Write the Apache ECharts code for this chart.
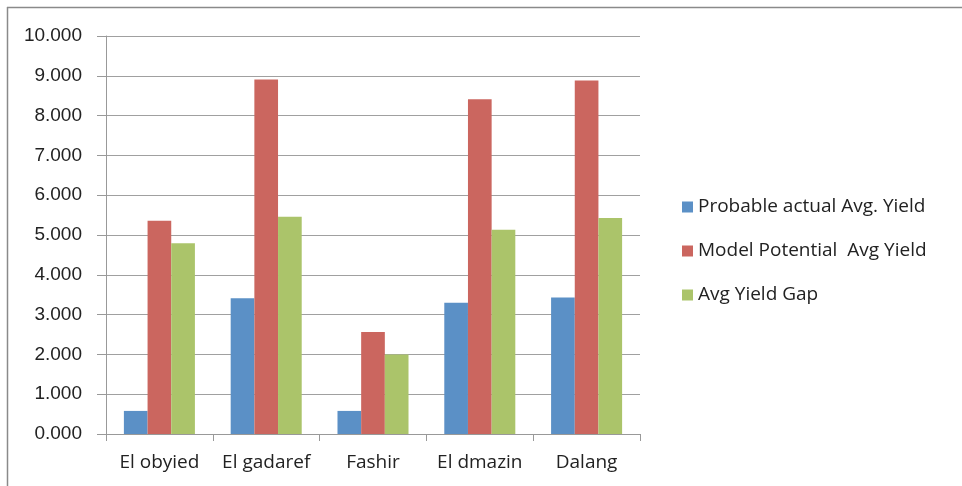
<!DOCTYPE html>
<html>
<head>
<meta charset="utf-8">
<script src="https://cdn.jsdelivr.net/npm/echarts@6/dist/echarts.min.js"></script>
<style>html,body{margin:0;padding:0;background:#fff;}#c{width:962px;height:486px;}</style>
</head>
<body>
<div id="c"></div>
<script>
const categories = ['El obyied', 'El gadaref', 'Fashir', 'El dmazin', 'Dalang'];
const seriesNames = ['Probable actual Avg. Yield', 'Model Potential  Avg Yield', 'Avg Yield Gap'];
const actualYield = [0.58, 3.41, 0.58, 3.30, 3.43];
const potentialYield = [5.36, 8.91, 2.56, 8.41, 8.88];
const yieldGap = [4.79, 5.46, 2.00, 5.13, 5.43];
const colors = ['#5B90C6', '#CB665F', '#ABC46A'];

const chart = echarts.init(document.getElementById('c'), null, {renderer: 'canvas'});
const values = [actualYield, potentialYield, yieldGap];
chart.setOption({
  animation: false,
  backgroundColor: '#fff',
  graphic: [
    {type: 'line', shape: {x1: 7, y1: 7.5, x2: 962, y2: 7.5}, style: {stroke: '#8a8a8a', lineWidth: 1.5}},
    {type: 'line', shape: {x1: 7.5, y1: 7, x2: 7.5, y2: 486}, style: {stroke: '#8a8a8a', lineWidth: 1.5}}
  ],
  legend: {
    orient: 'vertical',
    left: 682,
    top: 197,
    padding: 0,
    itemWidth: 11,
    itemHeight: 11,
    itemGap: 24,
    icon: 'rect',
    textStyle: {fontFamily: 'Open Sans', fontSize: 19, color: '#222', lineHeight: 20},
    data: seriesNames
  },
  grid: {left: 106, right: 322, top: 36, bottom: 52},
  xAxis: {
    type: 'category',
    data: categories,
    axisLine: {lineStyle: {color: '#999', width: 1}},
    axisTick: {show: true, length: 7, lineStyle: {color: '#999'}},
    axisLabel: {interval: 0, fontFamily: 'Open Sans', fontSize: 19, color: '#222', margin: 19}
  },
  yAxis: {
    type: 'value',
    min: 0, max: 10, interval: 1,
    axisLine: {show: true, lineStyle: {color: '#999', width: 1}},
    axisTick: {show: true, length: 9, lineStyle: {color: '#999'}},
    splitLine: {lineStyle: {color: '#a0a0a0', width: 1}},
    axisLabel: {fontFamily: 'Liberation Sans', fontSize: 19, color: '#222', margin: 24,
      formatter: v => v.toFixed(3)}
  },
  series: seriesNames.map((n, i) => ({
    name: n,
    type: 'bar',
    data: values[i],
    barGap: '0%',
    barCategoryGap: '33.5%',
    itemStyle: {color: colors[i]}
  }))
});
</script>
</body>
</html>
